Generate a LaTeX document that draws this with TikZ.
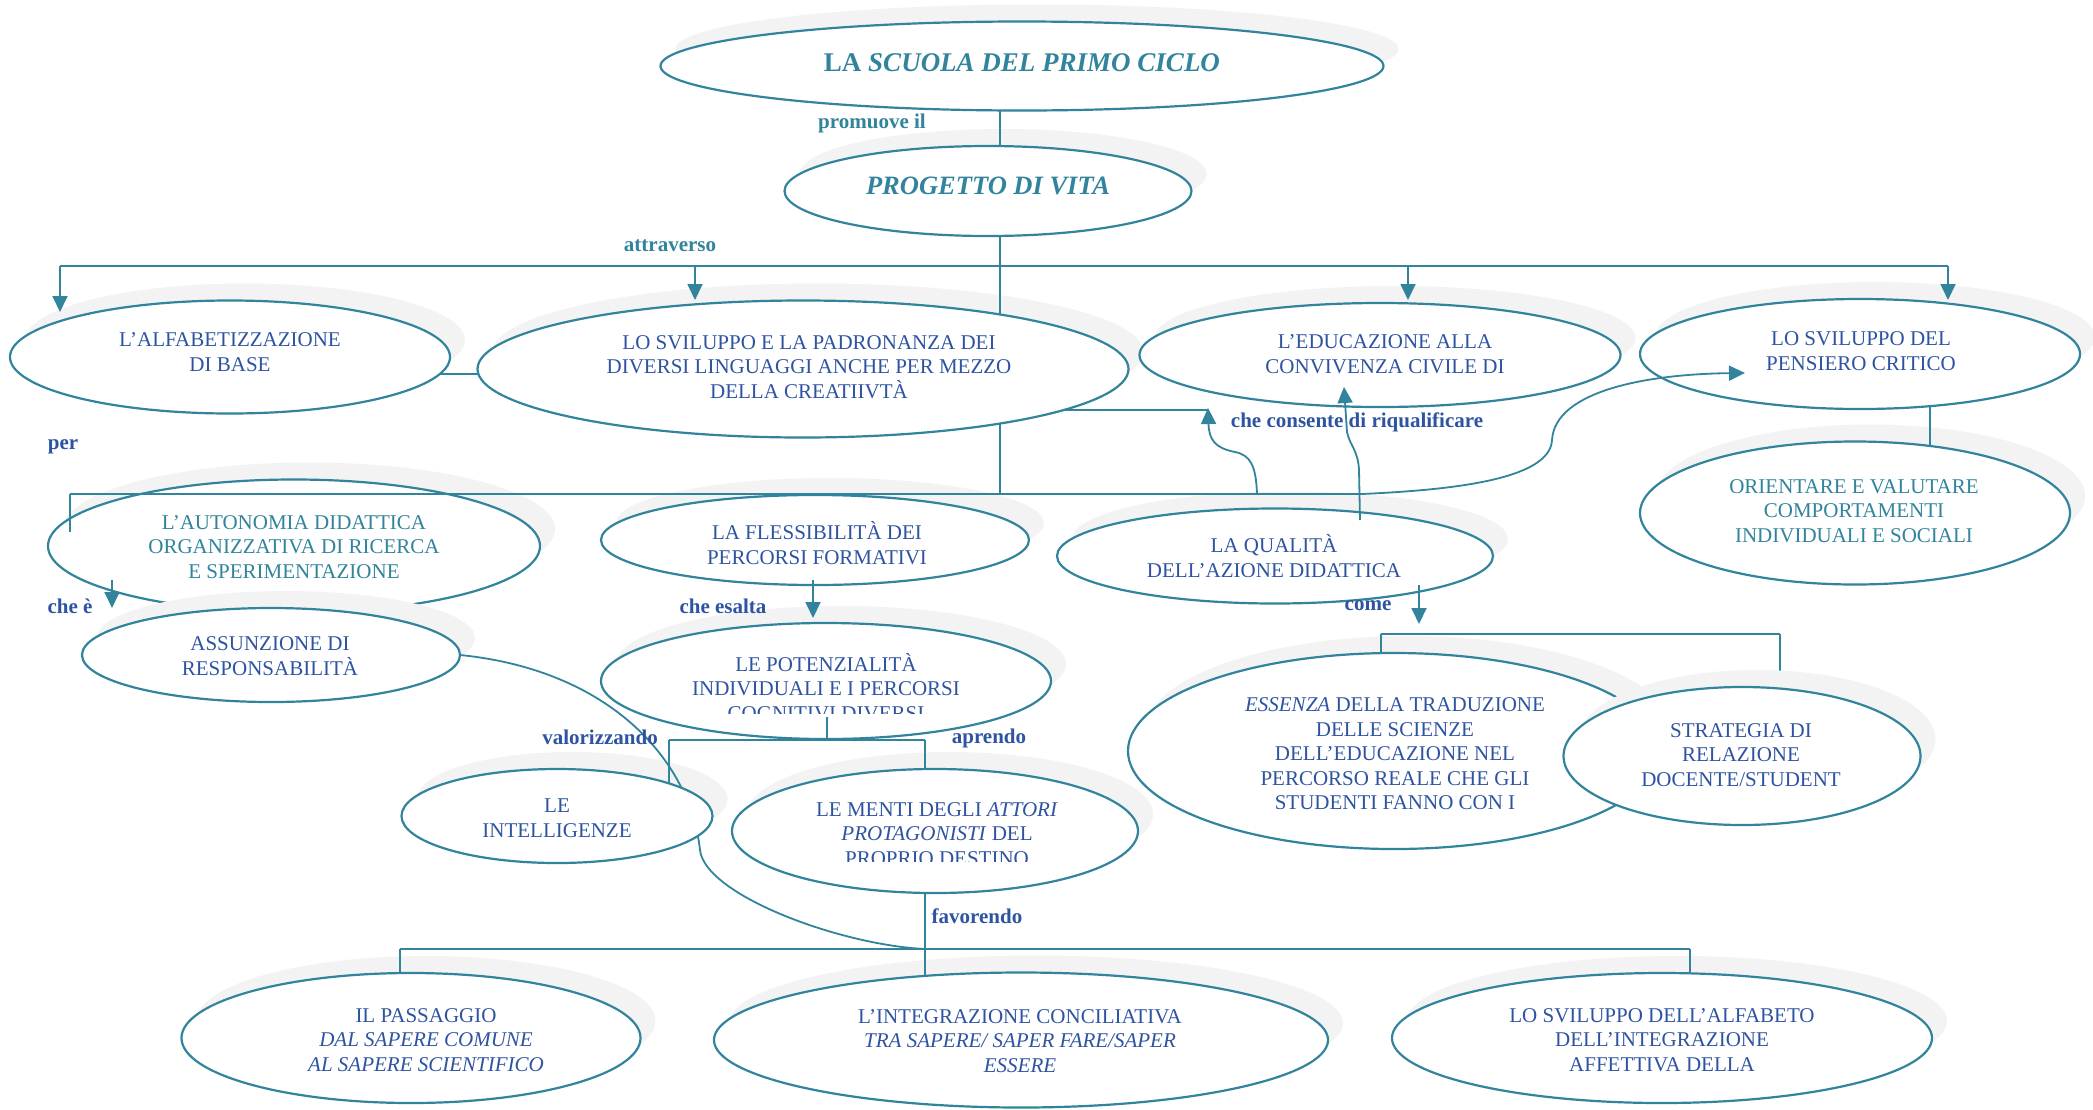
\documentclass[tikz,border=0pt]{standalone}
\usepackage{fontspec}
\setmainfont{Liberation Serif}
\usetikzlibrary{shapes.geometric,arrows.meta}
\definecolor{teal1}{HTML}{31849B}
\definecolor{dblue}{HTML}{2E54A1}
\definecolor{shd}{HTML}{F3F3F3}
\tikzset{
  ell/.style={ellipse, draw=teal1, line width=2.2pt, fill=white, inner sep=0pt, outer sep=0pt},
  shdw/.style={ellipse, fill=shd, draw=none, inner sep=0pt, outer sep=0pt},
  txt/.style={align=center, text=dblue, font=\fontsize{21}{24.5}\selectfont, inner sep=0pt},
  ttxt/.style={txt, text=teal1},
  lab/.style={text=dblue, font=\bfseries\fontsize{21}{24}\selectfont, inner sep=0pt},
  tlab/.style={lab, text=teal1},
  conn/.style={draw=teal1, line width=1.8pt},
  barline/.style={draw=teal1, line width=2.6pt},
  arr/.style={conn, -{Triangle[length=16pt,width=15pt]}},
}
\newcommand{\myshadow}[5]{\node[shdw, minimum width=#4pt, minimum height=#5pt] (#1-s) at ({#2+15},{#3-17}) {};}
\newcommand{\myell}[5]{\node[ell, minimum width=#4pt, minimum height=#5pt] (#1) at (#2,#3) {};}
\begin{document}
\begin{tikzpicture}[x=1pt,y=-1pt]
\useasboundingbox (0,0) rectangle (2093,1109);
\fill[white] (0,0) rectangle (2093,1109);

% ---------- shadows ----------
\myshadow{A}{1022}{66}{723}{89}
\myshadow{B}{988}{191}{407}{90}
\myshadow{C}{230}{357}{440}{113}
\myshadow{D}{803}{369}{651}{137}
\myshadow{E}{1380}{355}{481}{104}
\myshadow{F}{1860}{354}{440}{110}
\myshadow{G}{1855}{513}{430}{143}
\myshadow{H}{294}{546}{492}{133}
\myshadow{I}{815}{540}{428}{90}
\myshadow{J}{1275}{556}{436}{95}
\myshadow{L}{826}{681}{450}{116}
\myshadow{M}{557}{816}{311}{94}
\myshadow{N}{935}{831}{406}{124}
\myshadow{O}{411}{1038}{459}{130}
\myshadow{P}{1021}{1040}{614}{135}
\myshadow{Q}{1662}{1038}{540}{130}
\myshadow{R}{1394}{751}{532}{196}

% ---------- coordinates ----------
\coordinate (jAB1) at (1000,105);
\coordinate (jAB2) at (1000,152);
\coordinate (jB) at (1000,230);
\coordinate (jMid) at (1000,494);
\coordinate (cC) at (440,374);
\coordinate (cD) at (490,374);
\coordinate (fG1) at (1930,400);
\coordinate (fG2) at (1930,450);
\coordinate (dS1) at (1040,410);
\coordinate (dS2) at (1208,410);
\coordinate (jFav) at (925,949);
\coordinate (vM1) at (669,740);
\coordinate (vM2) at (669,790);
\coordinate (vN1) at (925,740);
\coordinate (vN2) at (925,780);
\coordinate (fav1) at (925,890);
\coordinate (bO1) at (400,949);
\coordinate (bO2) at (400,980);
\coordinate (bP2) at (925,980);
\coordinate (bQ1) at (1690,949);
\coordinate (bQ2) at (1690,980);
\coordinate (cR1) at (1381,634);
\coordinate (cR2) at (1381,660);
\coordinate (cS1) at (1780,634);
\coordinate (cS2) at (1780,695);

% ---------- connectors behind ellipses ----------
\draw[conn] (jAB1) -- (jAB2);
\draw[conn] (jB) -- (jMid);
\draw[conn] (cC) -- (cD);
\draw[conn] (fG1) -- (fG2);
\draw[conn] (dS1) -- (dS2);
\draw[conn] (vM1) -- (vM2);
\draw[conn] (vN1) -- (vN2);
\draw[conn] (fav1) -- (jFav);
\draw[conn] (bO1) -- (bO2);
\draw[conn] (jFav) -- (bP2);
\draw[conn] (bQ1) -- (bQ2);
\draw[conn] (cR1) -- (cR2);
\draw[conn] (cS1) -- (cS2);

% ---------- ellipses ----------
\myell{A}{1022}{66}{723}{89}
\myell{B}{988}{191}{407}{90}
\myell{C}{230}{357}{440}{113}
\myell{D}{803}{369}{651}{137}
\myell{E}{1380}{355}{481}{104}
\myell{F}{1860}{354}{440}{110}
\myell{G}{1855}{513}{430}{143}
\myell{H}{294}{546}{492}{133}
\myshadow{K}{271}{655}{378}{94}
\myell{K}{271}{655}{378}{94}
\draw[conn] (K.east) .. controls (610,670) and (690,760) .. (700,850) .. controls (705,895) and (840,945) .. (jFav);
\myell{I}{815}{540}{428}{90}
\myell{J}{1275}{556}{436}{95}
\myell{L}{826}{681}{450}{116}
\myell{M}{557}{816}{311}{94}
\myell{N}{935}{831}{406}{124}
\myell{O}{411}{1038}{459}{130}
\myell{P}{1021}{1040}{614}{135}
\myell{Q}{1662}{1038}{540}{130}
\myell{R}{1394}{751}{532}{196}
\myshadow{S}{1742}{756}{357}{138}
\myell{S}{1742}{756}{357}{138}

% ---------- texts ----------
\node[ttxt, font=\bfseries\fontsize{27}{30}\selectfont] (At) at (1022,63) {LA \textit{SCUOLA DEL PRIMO CICLO}};
\node[ttxt, font=\bfseries\itshape\fontsize{26.5}{30}\selectfont] (Bt) at (988,186) {PROGETTO DI VITA};
\node[txt] (Ct) at (230,352) {L’ALFABETIZZAZIONE\\DI BASE};
\node[txt] (Dt) at (809,367) {LO SVILUPPO E LA PADRONANZA DEI\\DIVERSI LINGUAGGI ANCHE PER MEZZO\\DELLA CREATIIVTÀ};
\node[txt] (Et) at (1385,354) {L’EDUCAZIONE ALLA\\CONVIVENZA CIVILE DI};
\node[txt] (Ft) at (1861,351) {LO SVILUPPO DEL\\PENSIERO CRITICO};
\node[ttxt] (Gt) at (1854,511) {ORIENTARE E VALUTARE\\COMPORTAMENTI\\INDIVIDUALI E SOCIALI};
\node[ttxt] (Ht) at (294,547) {L’AUTONOMIA DIDATTICA\\ORGANIZZATIVA DI RICERCA\\E SPERIMENTAZIONE};
\node[txt] (It) at (817,543) {LA FLESSIBILITÀ DEI\\PERCORSI FORMATIVI};
\node[txt] (Jt) at (1274,556) {LA QUALITÀ\\DELL’AZIONE DIDATTICA};
\node[txt] (Kt) at (270,656) {ASSUNZIONE DI\\RESPONSABILITÀ};
\begin{scope}
\clip (590,600) rectangle (1060,713);
\node[txt] (Lt) at (826,687) {LE POTENZIALITÀ\\INDIVIDUALI E I PERCORSI\\COGNITIVI DIVERSI};
\end{scope}
\node[txt] (Mt) at (557,818) {LE\\INTELLIGENZE};
\begin{scope}
\clip (720,760) rectangle (1150,861);
\node[txt] (Nt) at (937,834) {LE MENTI DEGLI \textit{ATTORI}\\\textit{PROTAGONISTI} DEL\\PROPRIO DESTINO};
\end{scope}
\node[txt] (Ot) at (426,1040) {IL PASSAGGIO\\\textit{DAL SAPERE COMUNE}\\\textit{AL SAPERE SCIENTIFICO}};
\node[txt] (Pt) at (1020,1041) {L’INTEGRAZIONE CONCILIATIVA\\\textit{TRA SAPERE/ SAPER FARE/SAPER}\\\textit{ESSERE}};
\node[txt] (Qt) at (1662,1040) {LO SVILUPPO DELL’ALFABETO\\DELL’INTEGRAZIONE\\AFFETTIVA DELLA};
\node[txt] (Rt) at (1395,754) {\textit{ESSENZA} DELLA TRADUZIONE\\DELLE SCIENZE\\DELL’EDUCAZIONE NEL\\PERCORSO REALE CHE GLI\\STUDENTI FANNO CON I};
\node[txt] (St) at (1741,755) {STRATEGIA DI\\RELAZIONE\\DOCENTE/STUDENT};

% ---------- labels ----------
\node[tlab] (l1) at (872,123) {promuove il};
\node[tlab] (l2) at (670,246) {attraverso};
\node[lab] (l3) at (63,447) {per};
\node[lab] (l4) at (70,606) {che è};
\node[lab] (l5) at (723,606) {che esalta};
\node[lab] (l6) at (600,737) {valorizzando};
\node[lab] (l7) at (989,738) {aprendo};
\node[lab] (l8) at (977,916) {favorendo};
\node[lab] (l9) at (1368,606) {come};
\node[lab] (l10) at (1357,422) {che consente di riqualificare};

% ---------- connectors on top ----------
\coordinate (tL) at (60,266);
\coordinate (tD) at (695,266);
\coordinate (tE) at (1408,266);
\coordinate (tR) at (1948,266);
\coordinate (aC) at (60,312);
\coordinate (aD) at (695,300);
\coordinate (aE) at (1408,300);
\coordinate (aF) at (1948,300);
\draw[barline] (tL) -- (tR);
\draw[arr] (tL) -- (aC);
\draw[arr] (tD) -- (aD);
\draw[arr] (tE) -- (aE);
\draw[arr] (tR) -- (aF);

\coordinate (mL) at (70,494);
\coordinate (mR) at (1362,494);
\coordinate (mT) at (70,532);
\draw[barline] (mL) -- (mR);
\draw[conn] (mL) -- (mT);

\coordinate (ce1) at (112,580);
\coordinate (ce2) at (112,608);
\draw[arr] (ce1) -- (ce2);
\coordinate (es1) at (813,580);
\coordinate (es2) at (813,618);
\draw[arr] (es1) -- (es2);

\coordinate (lb1) at (827,717);
\coordinate (lb2) at (827,740);
\draw[conn] (lb1) -- (lb2);
\draw[barline] (vM1) -- (vN1);

\draw[barline] (bO1) -- (bQ1);

\coordinate (co1) at (1419,585);
\coordinate (co2) at (1419,624);
\draw[arr] (co1) -- (co2);
\draw[barline] (cR1) -- (cS1);

\coordinate (q1) at (1257,494);
\coordinate (q2) at (1208,408);
\draw[arr] (q1) .. controls (1256,465) and (1250,455) .. (1235,452) .. controls (1215,448) and (1209,440) .. (q2);
\coordinate (e1) at (1360,520);
\coordinate (e2) at (1344,387);
\draw[arr] (e1) -- (1359,470) .. controls (1358,450) and (1350,446) .. (1347,432) -- (e2);
\coordinate (f1) at (1362,494);
\coordinate (f2) at (1745,373);
\draw[arr] (f1) .. controls (1450,490) and (1550,480) .. (1552,440) .. controls (1555,390) and (1650,374) .. (f2);
\end{tikzpicture}
\end{document}
